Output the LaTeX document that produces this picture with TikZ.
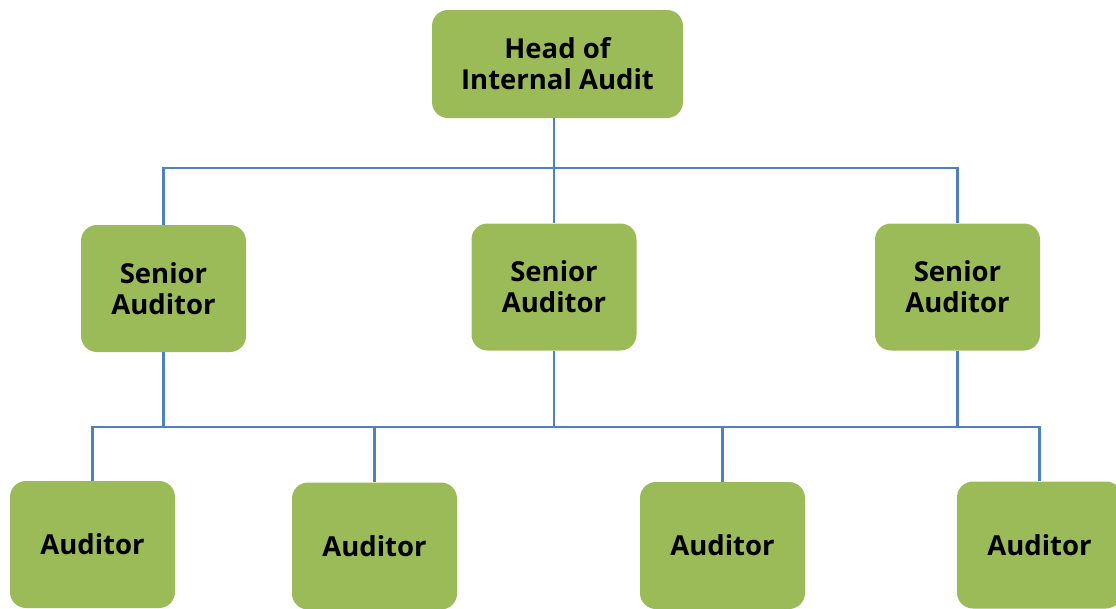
\documentclass[tikz,border=0pt]{standalone}
\usepackage{fontspec}
\setmainfont{Open Sans}
\definecolor{boxgreen}{HTML}{9BBB59}
\definecolor{linkblue}{HTML}{4F81BD}
\begin{document}
\begin{tikzpicture}[x=1pt,y=-1pt,
  box/.style={fill=boxgreen, rounded corners=16pt, minimum width=165pt, minimum height=127pt,
    font=\bfseries\fontsize{27.5}{31}\selectfont, align=center, inner sep=0pt},
  headbox/.style={box, minimum width=251pt, minimum height=108pt},
  conn/.style={draw=linkblue, line width=2.2pt}]
\useasboundingbox (0,0) rectangle (1116,608);
\node[headbox] (head) at (557.5,64) {Head of\\Internal Audit};
\node[box] (s1) at (163.5,288.5) {Senior\\Auditor};
\node[box] (s2) at (554,287) {Senior\\Auditor};
\node[box] (s3) at (957.5,287) {Senior\\Auditor};
\node[box] (a1) at (92.5,544.5) {Auditor};
\node[box] (a2) at (374.5,546) {Auditor};
\node[box] (a3) at (722.5,545.5) {Auditor};
\node[box] (a4) at (1039.5,545) {Auditor};
\coordinate (busA) at (554,168);
\coordinate (busB) at (554,427);
\draw[conn] (s2.north |- head.south) -- (s2.north);
\draw[conn] (s1.north) |- (s3.north |- busA) -- (s3.north);
\draw[conn] (a1.north) |- (a4.north |- busB) -- (a4.north);
\draw[conn] (a2.north) -- (a2.north |- busB);
\draw[conn] (a3.north) -- (a3.north |- busB);
\draw[conn] (s1.south) -- (s1.south |- busB);
\draw[conn] (s2.south) -- (s2.south |- busB);
\draw[conn] (s3.south) -- (s3.south |- busB);
\end{tikzpicture}
\end{document}
